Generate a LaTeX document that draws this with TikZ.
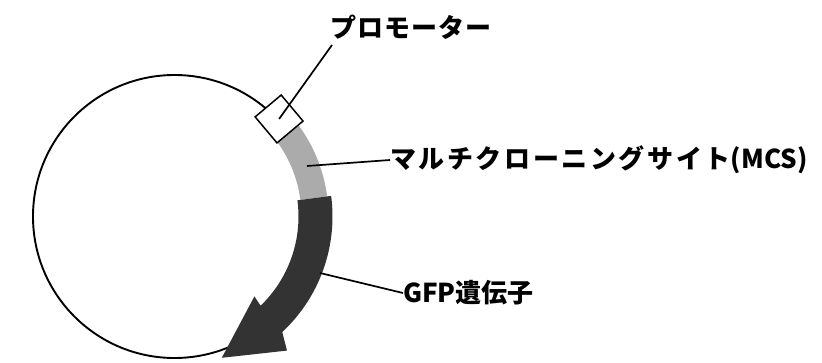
\documentclass[tikz,border=0pt]{standalone}
\usepackage{fontspec}
\newfontfamily\jp{Noto Sans CJK JP}[LetterSpace=10]
\newfontfamily\jpa{Noto Sans CJK JP}[LetterSpace=4]
\newfontfamily\jpn{Noto Sans CJK JP}
\definecolor{mcsgray}{HTML}{ABABAB}
\definecolor{gfpdark}{HTML}{333333}
\begin{document}
\begin{tikzpicture}[x=1pt,y=1pt,
  lbl/.style={anchor=west, inner sep=0pt, font=\bfseries\fontsize{26}{30}\selectfont},
  leader/.style={line width=1.7pt},
  backbone/.style={line width=1.9pt},
  promobox/.style={draw, fill=white, line width=1.5pt, rotate=40, minimum size=34pt, inner sep=0pt}]
\useasboundingbox (0,-362) rectangle (822,0);
\coordinate (C) at (174.5,-216.5);
% plasmid backbone
\draw[backbone] (C) circle[radius=141.5];
% MCS (gray band)
\fill[mcsgray] ([shift={(36.5:154)}]C) arc[start angle=36.5,end angle=7.5,radius=154]
  -- ([shift={(7.5:127)}]C) arc[start angle=7.5,end angle=36.5,radius=127] -- cycle;
% GFP gene (dark arrow)
\fill[gfpdark] ([shift={(7.5:158)}]C) arc[start angle=7.5,end angle=-47,radius=158]
  -- ([shift={(-50:175)}]C) -- ([shift={(-71.5:149)}]C) -- ([shift={(-45:113)}]C)
  -- ([shift={(-46:124)}]C) arc[start angle=-46,end angle=7.5,radius=124] -- cycle;
% promoter
\node[promobox] (prom) at ([shift={(43:143)}]C) {};
% labels
\node[lbl] (tprom) at (330,-27) {\jpa プロモーター};
\node[lbl] (tmcs) at (390,-160) {\jp マルチクローニングサイト{\jpn (MCS)}};
\node[lbl] (tgfp) at (403,-293) {\jpn GFP遺伝子};
% leader lines
\coordinate (promend) at (332,-45);
\coordinate (mcsp) at (307,-166);
\coordinate (gfpp) at (320,-273);
\draw[leader] (prom.center) -- (promend);
\draw[leader] (mcsp) -- (tmcs.west);
\draw[leader] (gfpp) -- (tgfp.west);
\end{tikzpicture}
\end{document}
